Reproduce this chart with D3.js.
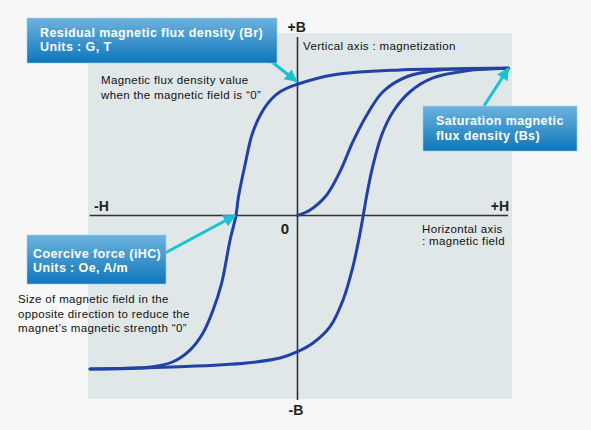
<!DOCTYPE html>
<html><head><meta charset="utf-8">
<script src="https://cdn.jsdelivr.net/npm/d3@7"></script>
<style>
html,body{margin:0;padding:0;background:#f7f7f7;}
svg{display:block;}
text{font-family:"Liberation Sans",Arial,sans-serif;}
</style></head>
<body>
<svg id="c" width="591" height="430"></svg>
<script>
// Data (H: magnetic field, B: magnetization; arbitrary units)
const upperBranchH = [100.4, 77.4, 48.8, 16.9, 0, -8.3, -14.7, -21.2, -25, -28.2, -29.3, -32.1, -36.1, -40.2, -45, -51.2, -59.3, -68.8, -98.8];
const upperBranchB = [98.1, 97.7, 97, 93.7, 87.5, 82.5, 73.7, 55.9, 33.7, 11.7, 0, -16.3, -45, -63, -78.3, -89.7, -97.5, -100.8, -102.3];
const lowerBranchH = [-98.8, -56, -24.2, -8.3, 0, 7.4, 15.5, 21.7, 26.4, 29.8, 31.3, 33, 36, 40.1, 45.5, 53.6, 64.5, 80.6, 100.4];
const lowerBranchB = [-102.3, -100.8, -98.3, -95, -90.8, -85, -74.1, -56.3, -34.1, -11.7, 0, 13.7, 33.7, 53.7, 69.2, 82.5, 91.7, 96.5, 98.1];
const initialH = [0, 6, 13.9, 20.2, 26.4, 33, 40.7, 52, 67.9, 100.4];
const initialB = [0, 3.7, 13.7, 29.2, 49.2, 67, 82.5, 92.5, 97, 98.1];
const axisLabels = {posB: "+B", negB: "-B", negH: "-H", posH: "+H", origin: "0"};
const callouts = [
  {lines: ["Residual magnetic flux density (Br)", "Units : G, T"], target: [0, 87.5]},
  {lines: ["Saturation magnetic", "flux density (Bs)"], target: [100.4, 98.1]},
  {lines: ["Coercive force (iHC)", "Units : Oe, A/m"], target: [-29.3, 0]}
];
const notes = [
  ["Magnetic flux density value", "when the magnetic field is “0”"],
  ["Vertical axis : magnetization"],
  ["Horizontal axis", ": magnetic field"],
  ["Size of magnetic field in the", "opposite direction to reduce the", "magnet’s magnetic strength “0”"]
];

const svg = d3.select("#c");
const x = d3.scaleLinear().domain([-100, 100]).range([87.5, 507.5]);
const y = d3.scaleLinear().domain([-120, 120]).range([395.5, 35.5]);

const defs = svg.append("defs");
const grad = defs.append("linearGradient").attr("id","bx").attr("x1",0).attr("y1",0).attr("x2",0).attr("y2",1);
grad.append("stop").attr("offset","0%").attr("stop-color","#6db3de");
grad.append("stop").attr("offset","100%").attr("stop-color","#0f76bb");
defs.append("marker").attr("id","ah").attr("viewBox","0 0 10 10").attr("refX",9).attr("refY",5)
  .attr("markerWidth",4.2).attr("markerHeight",4.2).attr("orient","auto-start-reverse")
  .attr("markerUnits","strokeWidth")
  .append("path").attr("d","M0,0 L10,5 L0,10 z").attr("fill","#18c2d2");

// panel
svg.append("rect").attr("x",88).attr("y",33).attr("width",424).attr("height",366).attr("fill","#dfe7e9");

// axes
svg.append("line").attr("x1",x(-99)).attr("x2",x(100.3)).attr("y1",y(0)).attr("y2",y(0))
  .attr("stroke","#333").attr("stroke-width",1.6);
svg.append("line").attr("x1",x(0)).attr("x2",x(0)).attr("y1",y(119)).attr("y2",y(-123))
  .attr("stroke","#333").attr("stroke-width",1.6);

const bold = (t,xx,yy,size,anchor)=>svg.append("text").attr("x",xx).attr("y",yy).attr("font-size",size)
  .attr("font-weight","bold").attr("fill","#222").attr("text-anchor",anchor||"start").text(t);
bold(axisLabels.posB, x(0)-10, 32, 14);
bold(axisLabels.negB, x(0)-9, 415, 14);
bold(axisLabels.negH, 94, 211, 14);
bold(axisLabels.posH, 509, 211, 14, "end");
bold(axisLabels.origin, 289, 233.5, 15, "end");

// curves
const line = d3.line().x(d=>x(d[0])).y(d=>y(d[1])).curve(d3.curveCatmullRom.alpha(0.5));
const zip = (a,b)=>a.map((v,i)=>[v,b[i]]);
[zip(upperBranchH,upperBranchB), zip(lowerBranchH,lowerBranchB), zip(initialH,initialB)].forEach(pts=>{
  svg.append("path").attr("d",line(pts)).attr("fill","none").attr("stroke","#2141a6")
    .attr("stroke-width",3).attr("stroke-linecap","round");
});

// notes
const noteText = (lines,xx,yy,lh)=>{
  const t = svg.append("text").attr("font-size",11.5).attr("letter-spacing",0.35).attr("fill","#111");
  lines.forEach((l,i)=>t.append("tspan").attr("x",xx).attr("y",yy+i*lh).text(l));
};
noteText(notes[0], 101, 84, 15);
noteText(notes[1], 303, 50, 15);
noteText(notes[2], 422, 233, 12);
noteText(notes[3], 18, 303, 14.5);

// callouts
const boxes = [
  {x:27, y:18, w:250, h:45, tx:40, ty:36.5, from:[272,62]},
  {x:423, y:106, w:154, h:45, tx:436, ty:125, from:[484,106]},
  {x:27, y:235, w:139, h:49, tx:33, ty:257.5, from:[165,253]}
];
boxes.forEach((b,i)=>{
  const c = callouts[i];
  const tx = x(c.target[0]) + (i===0?-1:i===1?0:-1);
  const ty = y(c.target[1]) + (i===0?-3:i===1?0:0);
  svg.append("line").attr("x1",b.from[0]).attr("y1",b.from[1]).attr("x2",tx).attr("y2",ty)
    .attr("stroke","#18c2d2").attr("stroke-width",3).attr("marker-end","url(#ah)");
  svg.append("rect").attr("x",b.x).attr("y",b.y).attr("width",b.w).attr("height",b.h)
    .attr("fill","url(#bx)").attr("stroke","#9fd0ec").attr("stroke-width",0.6);
  const t = svg.append("text").attr("font-size",12.5).attr("font-weight","bold").attr("letter-spacing",0.4).attr("fill","#fff");
  c.lines.forEach((l,k)=>t.append("tspan").attr("x",b.tx).attr("y",b.ty+k*14.5).text(l));
});
</script>
</body></html>
